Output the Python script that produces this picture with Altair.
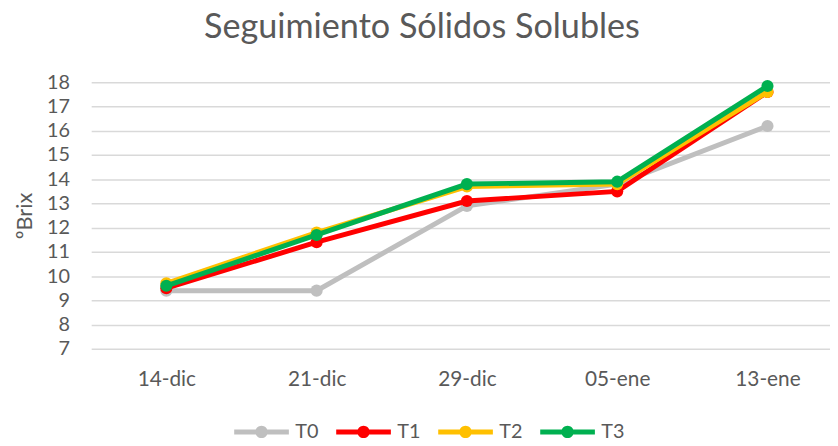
import altair as alt
import pandas as pd

fechas = ["14-dic", "21-dic", "29-dic", "05-ene", "13-ene"]
series = ["T0", "T1", "T2", "T3"]
T0 = [9.4, 9.4, 12.9, 13.8, 16.2]
T1 = [9.5, 11.4, 13.1, 13.5, 17.6]
T2 = [9.7, 11.8, 13.7, 13.8, 17.6]
T3 = [9.6, 11.7, 13.8, 13.9, 17.85]
colores = ["#bfbfbf", "#ff0000", "#ffc000", "#00b050"]
y_ticks = list(range(7, 19))

rows = []
for name, vals in zip(series, [T0, T1, T2, T3]):
    for i, (f, v) in enumerate(zip(fechas, vals)):
        rows.append({"idx": i, "fecha": f, "serie": name, "brix": v})
df = pd.DataFrame(rows)

FONT = "Lato"
GRAY = "#595959"

label_expr = "[" + ",".join(f"'{f}'" for f in fechas) + "][datum.value]"

color = alt.Color(
    "serie:N",
    scale=alt.Scale(domain=series, range=colores),
    legend=alt.Legend(
        title=None,
        orient="none",
        direction="horizontal",
        legendX=162,
        legendY=343,
        symbolType="M-4.6,-0.42L-0.9,-0.42L-0.9,0.42L-4.6,0.42Z M0.9,-0.42L4.6,-0.42L4.6,0.42L0.9,0.42Z M1.05,0A1.05,1.05 0 1,1 -1.05,0A1.05,1.05 0 1,1 1.05,0Z",
        symbolSize=144,
        symbolStrokeWidth=0,
        labelOffset=24,
        columnPadding=17,
        labelFontSize=20,
        labelColor=GRAY,
        labelFont=FONT,
        labelLimit=0,
    ),
)

x = alt.X(
    "idx:Q",
    scale=alt.Scale(domain=[-0.5, 4.416], nice=False, zero=False),
    axis=alt.Axis(
        title=None, values=list(range(len(fechas))), labelExpr=label_expr,
        ticks=False, domain=False, grid=False, labelFlush=False,
        labelFontSize=21, labelColor=GRAY, labelFont=FONT, labelPadding=20,
    ),
)
y = alt.Y(
    "brix:Q",
    scale=alt.Scale(domain=[7, 18], nice=False, zero=False),
    axis=alt.Axis(
        title="ºBrix", values=y_ticks, ticks=False, domain=False,
        gridColor="#d9d9d9", gridWidth=1.5,
        labelFontSize=20, labelColor=GRAY, labelFont=FONT, labelPadding=22,
        titleFontSize=22, titleColor=GRAY, titleFont=FONT, titleFontWeight="normal",
        titlePadding=10,
    ),
)

layers = []
for s in series:
    base = alt.Chart(df).transform_filter(alt.datum.serie == s)
    layers.append(base.mark_line(strokeWidth=5).encode(x=x, y=y, color=color))
    layers.append(base.mark_point(filled=True, size=150, opacity=1).encode(x=x, y=y, color=color))

chart = alt.layer(*layers).properties(
    width=746,
    height=269,
    autosize=alt.AutoSizeParams(type="none"),
    padding={"left": 84, "top": 73, "right": 0, "bottom": 88},
    title=alt.TitleParams(
        "Seguimiento Sólidos Solubles",
        fontSize=34.5, font=FONT, color=GRAY, fontWeight="normal",
        anchor="middle", frame="group", dx=-39, offset=27,
    ),
).configure_view(stroke=None)

chart.save("out.html", embed_options={"renderer": "svg", "actions": False})
